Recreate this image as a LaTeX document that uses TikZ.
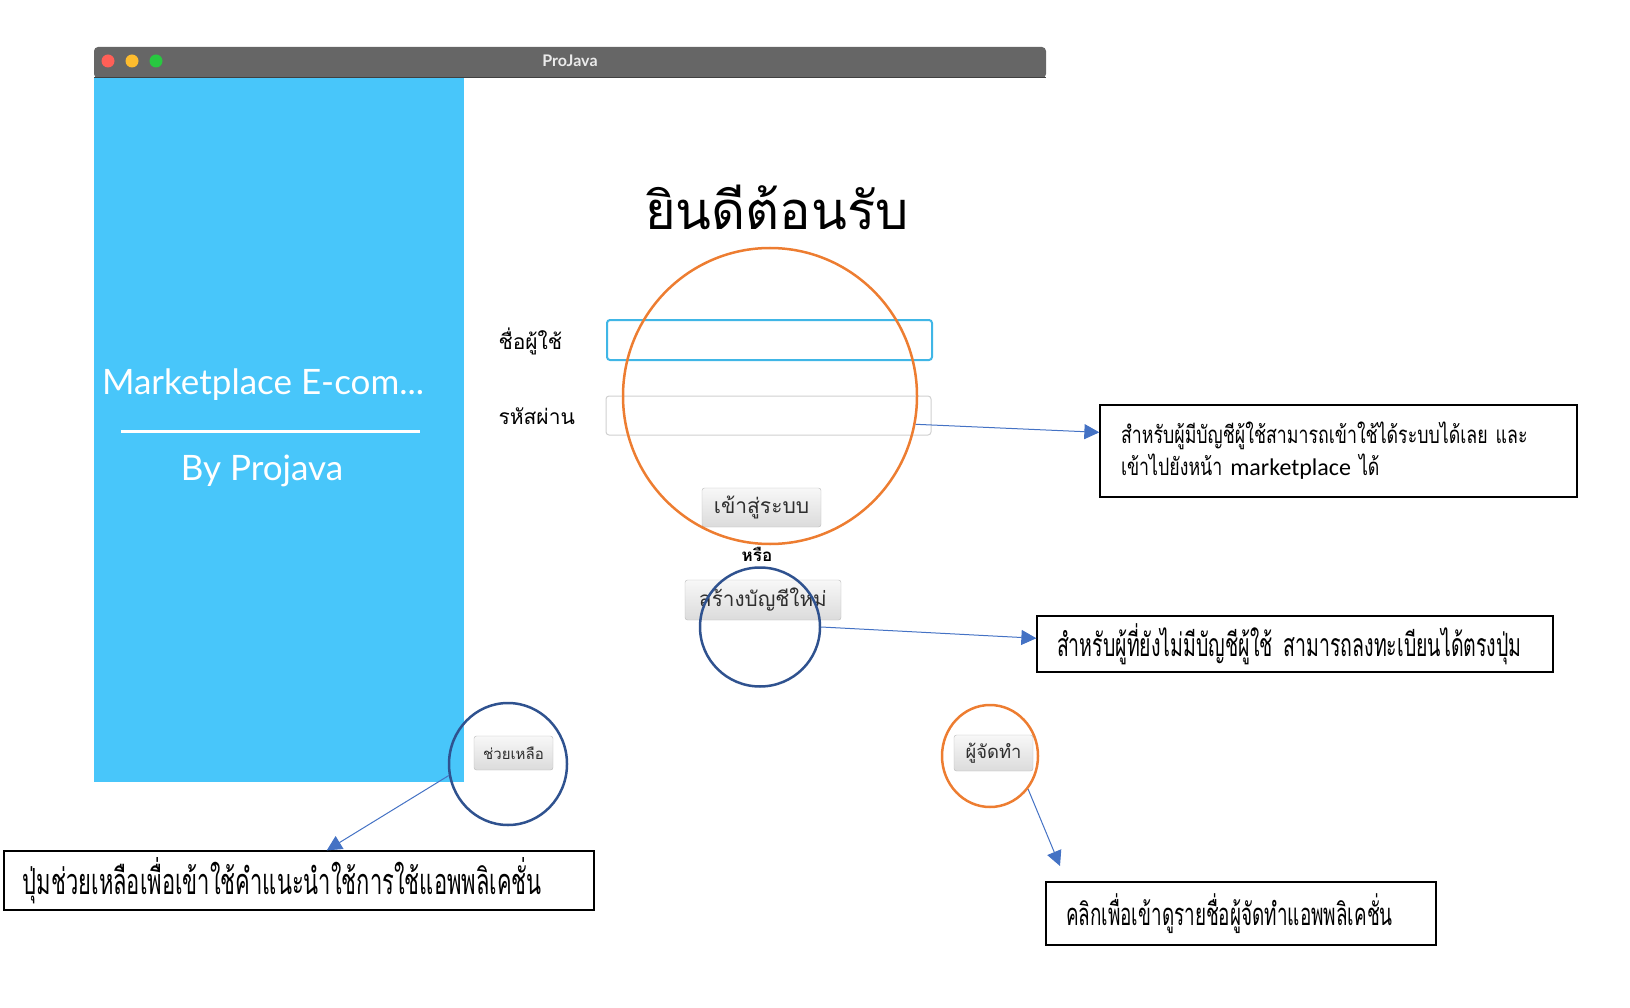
\documentclass[tikz,border=0pt]{standalone}
\usepackage{fontspec}
\usepackage{xcolor}
\usetikzlibrary{positioning,shapes.geometric,arrows.meta,calc}
\setmainfont{Lato}
\newfontfamily\thaiui[Script=Thai]{Loma}
\newfontfamily\thaicond[Script=Thai,FakeStretch=0.74]{Loma}
\newfontfamily\thainarrow[Script=Thai,FakeStretch=0.61]{Loma}
\newfontfamily\calibri{Carlito}

\begin{document}
\begin{tikzpicture}[x=1pt,y=-1pt]
% Define colours
\definecolor{sidebar}{RGB}{72,198,250}
\definecolor{titlebar}{RGB}{102,102,102}
\definecolor{ringorange}{RGB}{237,125,49}
\definecolor{ringblue}{RGB}{47,82,143}
\definecolor{arrowblue}{RGB}{68,114,196}
\definecolor{fieldblue}{RGB}{64,182,230}
\definecolor{fieldgray}{RGB}{208,208,208}
\definecolor{lightred}{RGB}{255,95,87}
\definecolor{lightyellow}{RGB}{254,188,46}
\definecolor{lightgreen}{RGB}{40,200,64}

\tikzset{
  uibutton/.style={draw=black!28, rounded corners=2.5pt, top color=black!3, bottom color=black!14, inner sep=0pt, text=black!82},
  textfield/.style={rounded corners=3pt, fill=white, inner sep=0pt},
  note/.style={draw=black, line width=1.3pt, fill=white, inner ysep=0pt, align=left},
  ring/.style={ellipse, draw, line width=2.5pt, inner sep=0pt},
  pointer/.style={arrowblue, line width=1pt, -{Triangle[length=15pt,width=15pt]}},
}
\useasboundingbox (0,0) rectangle (1630,1008);

% Draw window
\fill[titlebar, rounded corners=4pt] (94,78) rectangle (1046,47);
\draw[black!75, line width=1.5pt] (94,77.5) -- (1046,77.5);
\node[text=black!8, font=\bfseries\fontsize{16}{18}\selectfont] (wintitle) at (570,61) {ProJava};
\foreach \c/\x in {lightred/108, lightyellow/132, lightgreen/156}
  \fill[\c] (\x,61) circle (6.5);
\fill[sidebar] (94,78.5) rectangle (464,782);

% Sidebar texts
\node[text=white, font=\fontsize{35}{40}\selectfont] (appname) at (263,385) {Marketplace E-com...};
\draw[white, line width=3pt] (121,431) -- (420,431);
\node[text=white, font=\fontsize{35}{40}\selectfont] (byline) at (262,471) {By Projava};

% Login form
\node[font=\thaiui\fontsize{52.5}{60}\selectfont] (welcome) at (777,207) {ยินดีต้อนรับ};
\node[anchor=west, font=\thaiui\fontsize{21}{24}\selectfont] (userlabel) at (495,341) {ชื่อผู้ใช้};
\node[anchor=west, font=\thaiui\fontsize{21}{24}\selectfont] (passlabel) at (495,416) {รหัสผ่าน};
\node[textfield, draw=fieldblue, line width=2pt, minimum width=325pt, minimum height=40pt] (userfield) at (769.5,340) {};
\node[textfield, draw=fieldgray, line width=1pt, minimum width=325pt, minimum height=39pt] (passfield) at (768.5,415.5) {};
\node[uibutton, minimum width=119pt, minimum height=39pt, font=\thaiui\fontsize{21}{24}\selectfont] (login) at (761.5,507.5) {เข้าสู่ระบบ};
\node[font=\thaiui\bfseries\fontsize{17}{20}\selectfont] (orword) at (757,554) {หรือ};
\node[uibutton, minimum width=156pt, minimum height=40pt, font=\thaiui\fontsize{20.7}{24}\selectfont] (signup) at (763,600) {สร้างบัญชีใหม่};
\node[uibutton, minimum width=79pt, minimum height=34pt, font=\thaiui\fontsize{15}{18}\selectfont] (help) at (513.5,753) {ช่วยเหลือ};
\node[uibutton, minimum width=79pt, minimum height=36pt, font=\thaiui\fontsize{18.4}{22}\selectfont] (credit) at (993.5,753) {ผู้จัดทำ};

% Highlight rings
\node[ring, draw=ringorange, minimum width=294pt, minimum height=296pt] (loginring) at (770,396) {};
\node[ring, draw=ringblue, minimum width=120pt, minimum height=119pt] (signupring) at (760,627) {};
\node[ring, draw=ringblue, minimum width=118pt, minimum height=122pt] (helpring) at (508,764) {};
\node[ring, draw=ringorange, minimum width=96pt, minimum height=102pt] (creditring) at (990,756) {};

% Notes
\node[note, inner xsep=21pt, text width=435pt, minimum height=92pt, font=\thaicond\fontsize{24}{32}\selectfont] (loginnote) at (1338.5,451)
  {สำหรับผู้มีบัญชีผู้ใช้สามารถเข้าใช้ได้ระบบได้เลย และ\\เข้าไปยังหน้า {\calibri marketplace} ได้};
\node[note, inner xsep=20pt, text width=476pt, minimum height=56pt, font=\thainarrow\fontsize{32}{36}\selectfont] (signupnote) at (1295,644)
  {สำหรับผู้ที่ยังไม่มีบัญชีผู้ใช้ สามารถลงทะเบียนได้ตรงปุ่ม};
\node[note, inner xsep=19pt, text width=552pt, minimum height=59pt, font=\thainarrow\fontsize{36}{40}\selectfont] (helpnote) at (299,880.5)
  {ปุ่มช่วยเหลือเพื่อเข้าใช้คำแนะนำใช้การใช้แอพพลิเคชั่น};
\node[note, inner xsep=20pt, text width=350pt, minimum height=63pt, font=\thainarrow\fontsize{31}{34}\selectfont] (creditnote) at (1241,913.5)
  {คลิกเพื่อเข้าดูรายชื่อผู้จัดทำแอพพลิเคชั่น};
\coordinate (credittip) at (1060,866);

% Draw pointers
\draw[pointer] (loginring.-11) -- ($(loginnote.north west)!0.3!(loginnote.south west)$);
\draw[pointer] (signupring.east) -- ($(signupnote.north west)!0.4!(signupnote.south west)$);
\draw[pointer] (helpring.191) -- ($(helpnote.north west)!0.547!(helpnote.north east)$);
\draw[pointer] (creditring.-41) -- (credittip);
\end{tikzpicture}
\end{document}
